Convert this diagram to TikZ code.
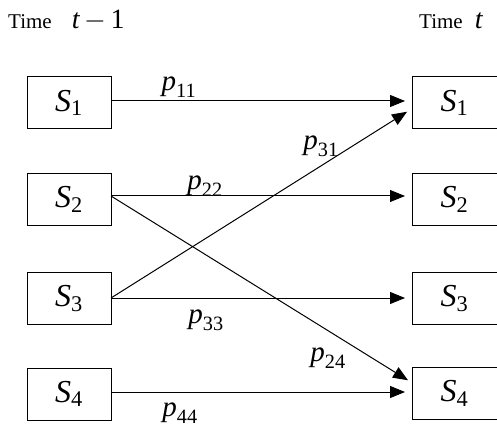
\documentclass[tikz,border=0pt]{standalone}
\usepackage{fix-cm}
\usepackage{amsmath}
\usepackage{fontspec}
\setmainfont{Liberation Serif}
\usetikzlibrary{arrows.meta,calc}
\newcommand\statelab[2]{$\textit{#1}_{\text{#2}}$}
\begin{document}
\begin{tikzpicture}[x=1pt,y=-1pt,
  state/.style={draw,line width=1pt,minimum width=84pt,minimum height=52pt,inner sep=0pt,font=\fontsize{32}{32}\selectfont},
  rstate/.style={state,minimum width=96pt,anchor=west},
  trans/.style={line width=1pt,-{Triangle[length=15pt,width=12pt]},shorten >=7pt},
  plabel/.style={font=\fontsize{29}{29}\selectfont,inner sep=0pt},
  timelab/.style={font=\fontsize{21}{21}\selectfont,inner sep=0pt,anchor=base west}]
\useasboundingbox (0,0) rectangle (497,427);
\clip (0,0) rectangle (497,427);
\node[timelab] (T1) at (8,29) {Time\hspace{20pt}{\fontsize{28}{28}\selectfont$\textit{t}\,{-}\,\text{1}$}};
\node[timelab] (T2) at (419,29) {Time\hspace{12pt}{\fontsize{28}{28}\selectfont\textit{t}}};
\node[state] (L1) at (69,103) {\statelab{S}{1}};
\node[state] (L2) at (69,199.5) {\statelab{S}{2}};
\node[state] (L3) at (69,298.5) {\statelab{S}{3}};
\node[state] (L4) at (69,394) {\statelab{S}{4}};
\node[rstate] (R1) at (412,103) {\hspace{-12pt}\statelab{S}{1}};
\node[rstate] (R2) at (412,199.5) {\hspace{-12pt}\statelab{S}{2}};
\node[rstate] (R3) at (412,298.5) {\hspace{-12pt}\statelab{S}{3}};
\node[rstate] (R4) at (412,393.5) {\hspace{-12pt}\statelab{S}{4}};
\coordinate (s1) at (111,101);
\coordinate (s2) at (111,196);
\coordinate (s3) at (111,298);
\coordinate (s4) at (111,392);
\coordinate (e1) at (412,101);
\coordinate (e2) at (412,196);
\coordinate (e3) at (412,298);
\coordinate (e4) at (412,392);
\coordinate (e31) at (413,108);
\coordinate (e24) at (414,384);
\draw[trans] (s1) -- (e1);
\draw[trans] (s2) -- (e2);
\draw[trans] (s3) -- (e3);
\draw[trans] (s4) -- (e4);
\draw[trans] (s3) -- (e31);
\draw[trans] (s2) -- (e24);
\node[plabel] (p11) at (179,87) {\statelab{p}{11}};
\node[plabel] (p22) at (205,186) {\statelab{p}{22}};
\node[plabel] (p31) at (321,146) {\statelab{p}{31}};
\node[plabel] (p33) at (206,320) {\statelab{p}{33}};
\node[plabel] (p24) at (328,358) {\statelab{p}{24}};
\node[plabel] (p44) at (180,413) {\statelab{p}{44}};
\end{tikzpicture}
\end{document}
